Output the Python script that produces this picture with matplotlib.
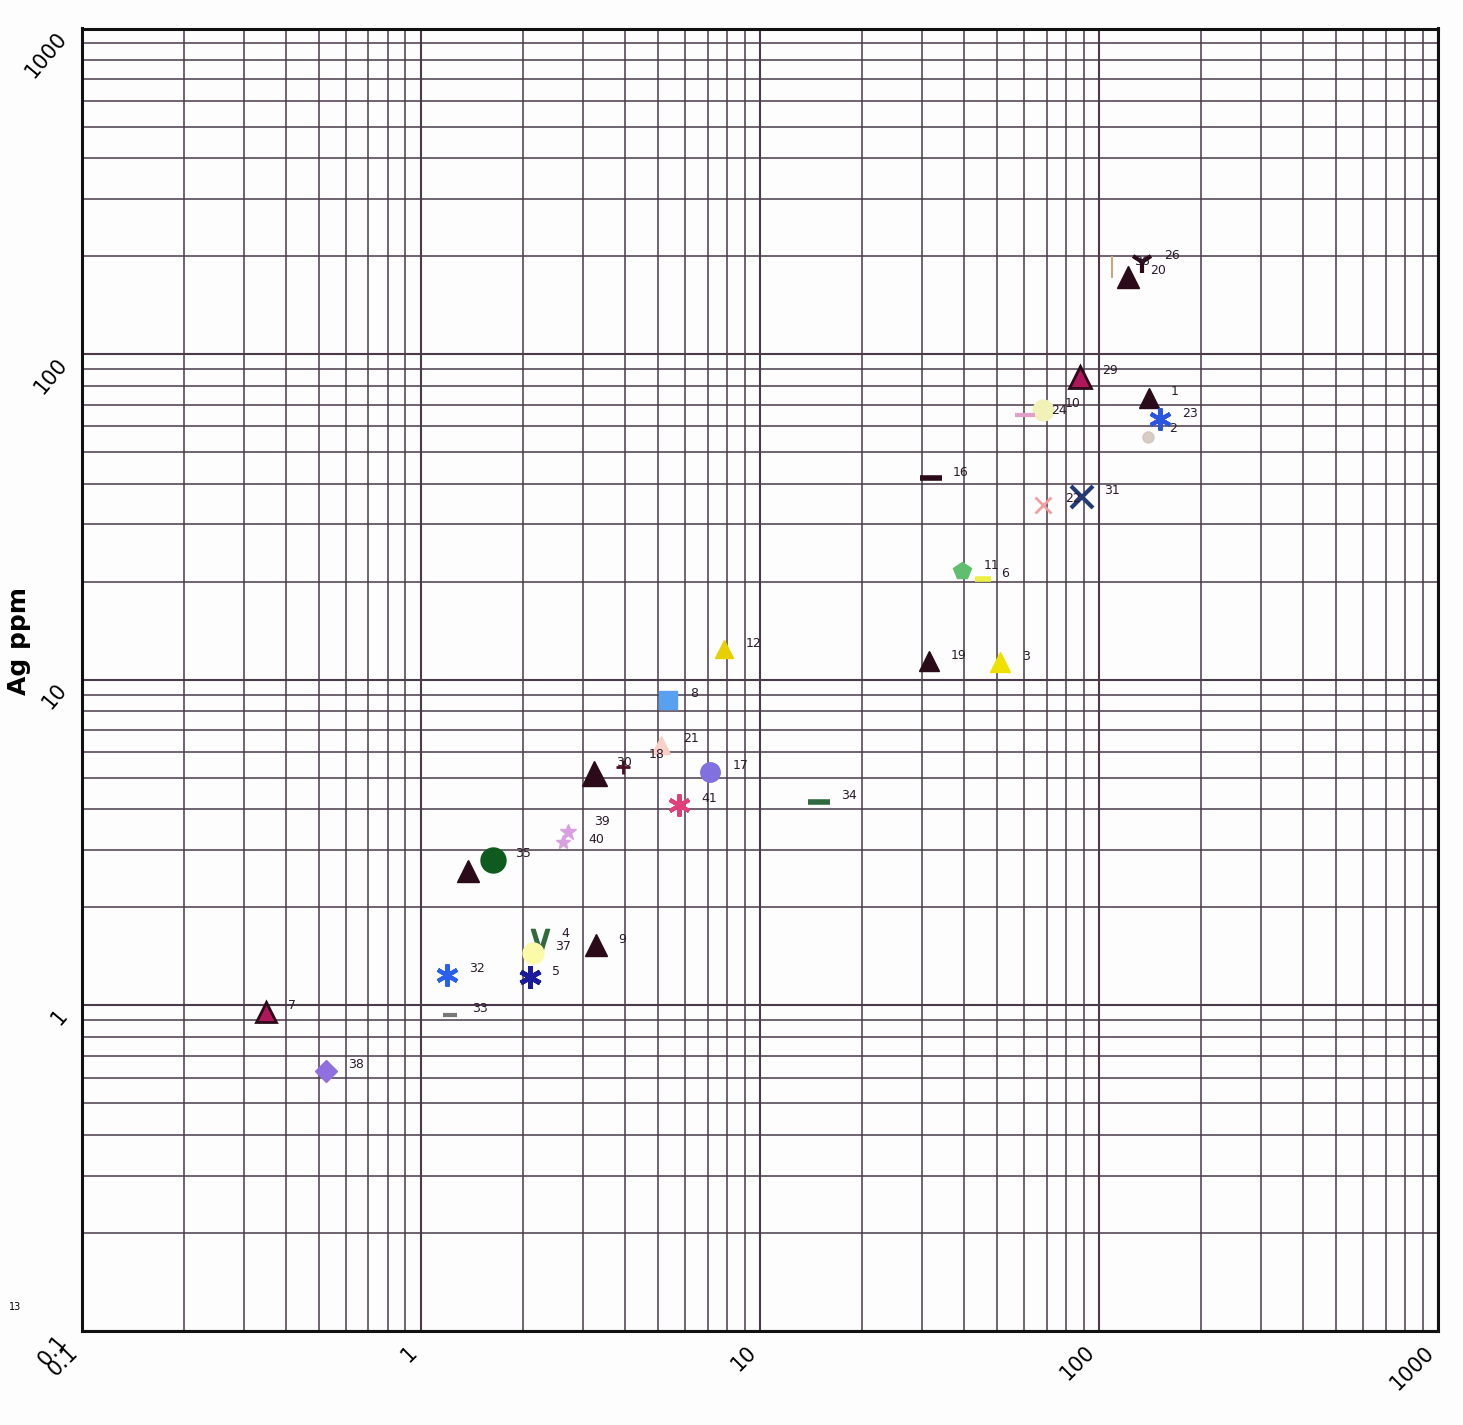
import numpy as np
import matplotlib
matplotlib.use("Agg")
import matplotlib.pyplot as plt
from matplotlib.ticker import LogLocator, NullFormatter, FixedLocator

# sample number, x value, Ag ppm
sample_ids = ["1", "2", "23", "26", "20", "36", "29", "10", "24", "16", "22", "31",
              "11", "6", "19", "3", "12", "8", "21", "18", "30", "17", "41", "34",
              "39", "40", "35", "", "4", "37", "9", "32", "5", "33", "7", "38"]
x_values = [140, 139, 151, 134, 122, 109, 88, 68.4, 60.5, 31.9, 68.4, 89.1,
            39.4, 45.5, 31.5, 51, 7.83, 5.36, 5.11, 3.94, 3.24, 7.13, 5.77, 14.9,
            2.72, 2.62, 1.63, 1.38, 2.24, 2.14, 3.28, 1.19, 2.10, 1.22, 0.349, 0.525]
ag_ppm = [73.5, 55.8, 63, 192, 173, 185, 85.3, 67.5, 65.2, 41.5, 34.5, 36.5,
          21.5, 20.4, 11.4, 11.3, 12.4, 8.69, 6.31, 5.41, 5.18, 5.21, 4.13, 4.22,
          3.41, 3.18, 2.80, 2.59, 1.59, 1.45, 1.53, 1.24, 1.22, 0.935, 0.955, 0.629]

dark = "#2b0a1a"
# marker styles per sample (hand drawn symbols approximated)
styles = {
    "1": dict(marker="^", color=dark, ms=15),
    "2": dict(marker="o", color="#cfc2b4", ms=8, alpha=0.8),
    "23": dict(marker=(6, 2, 0), color="#2a55dd", ms=16, mew=3),
    "26": dict(marker="1", color=dark, ms=16, mew=3),
    "20": dict(marker="^", color=dark, ms=16),
    "36": dict(marker="|", color="#c8a880", ms=16, mew=1.5),
    "29": dict(marker="^", color="#b0175a", ms=16, mec=dark, mew=2),
    "10": dict(marker="o", color="#f2f2b8", ms=15),
    "24": dict(marker="_", color="#e0a0c8", ms=14, mew=3),
    "16": dict(marker="_", color=dark, ms=16, mew=4),
    "22": dict(marker="x", color="#f0a0a0", ms=12, mew=2),
    "31": dict(marker="x", color="#203a7a", ms=16, mew=3),
    "11": dict(marker="p", color="#5fbf6f", ms=13),
    "6": dict(marker="_", color="#f0f040", ms=12, mew=4),
    "19": dict(marker="^", color=dark, ms=15),
    "3": dict(marker="^", color="#f0e000", ms=15),
    "12": dict(marker="^", color="#e8d000", ms=13),
    "8": dict(marker="s", color="#5aa0f0", ms=13),
    "21": dict(marker="^", color="#f8d0c8", ms=13),
    "18": dict(marker="+", color="#4a1020", ms=10, mew=2),
    "30": dict(marker="^", color=dark, ms=18),
    "17": dict(marker="o", color="#8070e0", ms=14),
    "41": dict(marker=(6, 2, 0), color="#e0407a", ms=16, mew=3),
    "34": dict(marker="_", color="#2f6b3f", ms=16, mew=4),
    "39": dict(marker="*", color="#d8a0e0", ms=12),
    "40": dict(marker="*", color="#d8a0e0", ms=10),
    "35": dict(marker="o", color="#0f5a1f", ms=18),
    "": dict(marker="^", color=dark, ms=16),
    "4": dict(marker=r"$\vee$", color="#2f6b3f", ms=16),
    "37": dict(marker="o", color="#fafaa8", ms=15),
    "9": dict(marker="^", color=dark, ms=16),
    "32": dict(marker=(6, 2, 0), color="#2a60ee", ms=16, mew=3),
    "5": dict(marker=(6, 2, 0), color="#1a1a9a", ms=16, mew=3.5),
    "33": dict(marker="_", color="#777777", ms=10, mew=3),
    "7": dict(marker="^", color="#b0175a", ms=15, mec=dark, mew=2),
    "38": dict(marker="D", color="#9070e0", ms=11),
}
# label offsets (pixels) where the default does not fit
label_offsets = {"40": (26, 2), "39": (26, 10), "6": (18, 5), "18": (26, 12),
                 "30": (22, 10), "2": (22, 8), "24": (26, 4)}

tick_values = [0.1, 1, 10, 100, 1000]
tick_labels = ["0.1", "1", "10", "100", "1000"]

fig = plt.figure(figsize=(14.63, 14.25), dpi=100)
fig.patch.set_facecolor("#fdfdfd")
ax = fig.add_axes([0.056, 0.066, 0.927, 0.914])
ax.set_facecolor("#fdfdfd")
ax.set_xscale("log")
ax.set_yscale("log")
ax.set_xlim(0.1, 1000)
ax.set_ylim(0.1, 1000)

grid_color = "#4a3a4a"
ax.xaxis.set_minor_locator(LogLocator(base=10, subs=np.arange(2, 10)))
ax.yaxis.set_minor_locator(LogLocator(base=10, subs=np.arange(2, 10)))
ax.xaxis.set_minor_formatter(NullFormatter())
ax.yaxis.set_minor_formatter(NullFormatter())
ax.grid(True, which="major", color=grid_color, lw=1.5)
ax.grid(True, which="minor", color=grid_color, lw=1.1)
ax.set_axisbelow(True)

ax.xaxis.set_major_locator(FixedLocator(tick_values))
ax.yaxis.set_major_locator(FixedLocator(tick_values))
ax.set_xticklabels(tick_labels, rotation=45, ha="right", va="top", fontsize=15)
ax.set_yticklabels(tick_labels, rotation=50, ha="right", va="top", fontsize=15)
ax.tick_params(which="both", length=0, pad=8)

for s in ax.spines.values():
    s.set_linewidth(2.2)
    s.set_color("#111111")

for sid, xv, yv in zip(sample_ids, x_values, ag_ppm):
    st = dict(styles[sid])
    ax.plot(xv, yv, linestyle="none", zorder=3, **st)
    if sid:
        off = label_offsets.get(sid, (22, 6))
        ax.annotate(sid, (xv, yv), xytext=off, textcoords="offset pixels",
                    fontsize=9, color="#2b1a2a", ha="left", va="center", zorder=4)

fig.text(0.013, 0.55, "Ag ppm", rotation=90, fontsize=18, fontweight="bold",
         ha="center", va="center")
fig.text(0.006, 0.083, "13", fontsize=7, ha="left", va="center")

fig.savefig("out.png", dpi=100, facecolor=fig.get_facecolor())
